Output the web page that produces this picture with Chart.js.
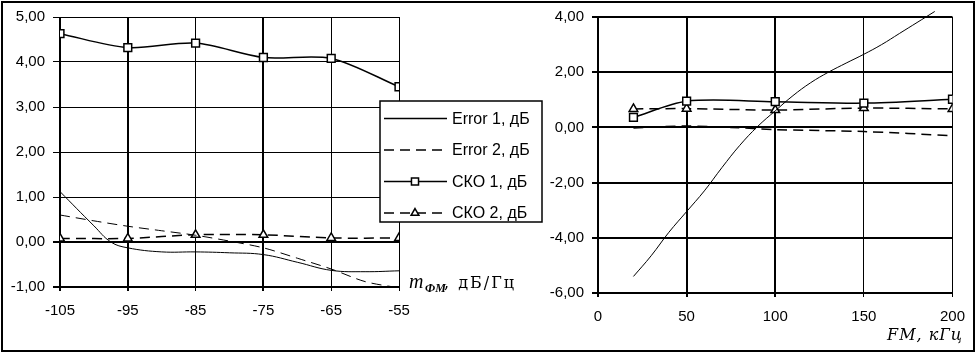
<!DOCTYPE html>
<html>
<head>
<meta charset="utf-8">
<script src="https://cdn.jsdelivr.net/npm/chart.js@4/dist/chart.umd.min.js"></script>
<style>
html, body { margin: 0; padding: 0; background: #fff; }
#wrap { position: relative; width: 976px; height: 353px; overflow: hidden; }
#frame { position: absolute; left: 1px; top: 1px; width: 970px; height: 347px; border: 2px solid #000; }
#rightChart { position: absolute; left: 500px; top: 0; }
#leftChart { position: absolute; left: 0; top: 0; z-index: 2; }
</style>
</head>
<body>
<div id="wrap">
    <div id="frame"></div>
    <canvas id="rightChart" width="476" height="353"></canvas>
    <canvas id="leftChart" width="545" height="353"></canvas>
</div>
<script>
// series names (shared by both panels)
const seriesLabels = ['Error 1, дБ', 'Error 2, дБ', 'СКО 1, дБ', 'СКО 2, дБ'];

// left panel: m_ФМ, дБ/Гц
const leftX = [-105, -95, -85, -75, -65, -55];
const leftSko1 = [4.63, 4.32, 4.42, 4.1, 4.08, 3.45];
const leftSko2 = [0.08, 0.08, 0.16, 0.16, 0.09, 0.09];
const leftErr1X = [-105, -100, -97.5, -95, -90, -85, -80, -75, -70, -65, -60, -55];
const leftErr1 = [1.12, 0.36, 0.0, -0.13, -0.22, -0.22, -0.24, -0.28, -0.45, -0.63, -0.66, -0.64];
const leftErr2X = [-105, -100, -95, -90, -85, -80, -75, -70, -65, -60, -55];
const leftErr2 = [0.6, 0.47, 0.35, 0.25, 0.15, 0.02, -0.13, -0.36, -0.6, -0.88, -1.02];

// right panel: FM, кГц
const rightX = [20, 50, 100, 150, 200];
const rightSko1 = [0.36, 0.95, 0.93, 0.88, 1.02];
const rightSko2 = [0.67, 0.68, 0.63, 0.7, 0.67];
const rightErr1X = [20, 30, 40, 50, 60, 70, 80, 90, 100, 110, 120, 130, 140, 150, 160, 170, 180, 190];
const rightErr1 = [-5.4, -4.65, -3.8, -3.05, -2.3, -1.45, -0.65, 0.03, 0.6, 1.15, 1.62, 2.0, 2.33, 2.65, 3.0, 3.4, 3.8, 4.2];
const rightErr2X = [20, 50, 75, 100, 150, 200];
const rightErr2 = [-0.02, 0.05, 0.0, -0.08, -0.15, -0.3];

const sans = '"Liberation Sans", Arial, sans-serif';
const pts = (xs, ys) => xs.map((x, i) => ({ x, y: ys[i] }));
const fmt = v => v.toFixed(2).replace('.', ',');

function makeDatasets(e1, e2, s1, s2, opt) {
    return [
        {
            label: seriesLabels[0], data: e1, borderColor: '#000', borderWidth: 1,
            pointRadius: 0, tension: 0.4, clip: false,
        },
        {
            label: seriesLabels[1], data: e2, borderColor: '#000', borderWidth: opt.e2Width,
            borderDash: [10, 6], pointRadius: 0, tension: 0.3,
        },
        {
            label: seriesLabels[2], data: s1, borderColor: '#000', borderWidth: 1.5,
            pointStyle: 'rect', pointRadius: 5.5, pointBorderWidth: 1.5,
            pointBackgroundColor: '#fff', pointBorderColor: '#000', tension: 0.3,
        },
        {
            label: seriesLabels[3], data: s2, borderColor: '#000', borderWidth: 1.5,
            borderDash: [10, 6], pointStyle: 'triangle', pointRadius: 5, pointBorderWidth: 1.5,
            pointBackgroundColor: '#fff', pointBorderColor: '#000', tension: 0.3,
        },
    ];
}

// legend box drawn over the left panel
const legendBox = {
    id: 'legendBox',
    afterDraw(chart) {
        const ctx = chart.ctx;
        ctx.save();
        ctx.fillStyle = '#fff';
        ctx.fillRect(380, 101, 162, 121);
        ctx.strokeStyle = '#000';
        ctx.lineWidth = 1.5;
        ctx.strokeRect(380, 101, 162, 121);
        chart.data.datasets.forEach((ds, i) => {
            const y = 118.5 + i * 31.5;
            ctx.strokeStyle = '#000';
            ctx.lineWidth = Math.max(ds.borderWidth, 1.5);
            ctx.setLineDash(ds.borderDash || []);
            ctx.beginPath();
            ctx.moveTo(384, y);
            ctx.lineTo(447, y);
            ctx.stroke();
            ctx.setLineDash([]);
            if (ds.pointRadius) {
                ctx.fillStyle = '#fff';
                ctx.lineWidth = ds.pointBorderWidth;
                Chart.helpers.drawPoint(ctx, {
                    pointStyle: ds.pointStyle, rotation: 0,
                    radius: ds.pointRadius - 0.5, borderWidth: ds.pointBorderWidth,
                }, 415, y);
            }
            ctx.fillStyle = '#000';
            ctx.font = '16px ' + sans;
            ctx.textBaseline = 'middle';
            ctx.fillText(ds.label, 452, y + 1);
        });
        ctx.restore();
    },
};

const leftTitle = {
    id: 'leftTitle',
    afterDraw(chart) {
        const ctx = chart.ctx;
        ctx.save();
        ctx.fillStyle = '#000';
        ctx.textBaseline = 'alphabetic';
        ctx.font = 'italic 20px "Liberation Serif", serif';
        ctx.fillText('m', 409, 288);
        ctx.font = 'italic bold 12px "Liberation Serif", serif';
        ctx.fillText('ФМ', 425, 292);
        ctx.font = '16px "DejaVu Serif", serif';
        ctx.letterSpacing = '2px';
        ctx.fillText(', дБ/Гц', 444, 288);
        ctx.restore();
    },
};

const rightTitle = {
    id: 'rightTitle',
    afterDraw(chart) {
        const ctx = chart.ctx;
        ctx.save();
        ctx.fillStyle = '#000';
        ctx.font = 'italic 16px "DejaVu Serif", serif';
        ctx.letterSpacing = '1px';
        ctx.textAlign = 'right';
        ctx.textBaseline = 'alphabetic';
        ctx.fillText('FM, кГц', 463, 340);
        ctx.restore();
    },
};

Chart.defaults.font.family = sans;
Chart.defaults.color = '#000';

new Chart(document.getElementById('leftChart'), {
    type: 'line',
    data: {
        datasets: makeDatasets(pts(leftErr1X, leftErr1), pts(leftErr2X, leftErr2),
            pts(leftX, leftSko1), pts(leftX, leftSko2), { e2Width: 1 }),
    },
    options: {
        responsive: false,
        animation: false,
        layout: { padding: { left: 0, right: 146, top: 14, bottom: 0 } },
        plugins: { legend: { display: false }, tooltip: { enabled: false } },
        scales: {
            x: {
                type: 'linear', min: -105, max: -55,
                ticks: { stepSize: 10, padding: 11, font: { size: 15 } },
                grid: {
                    color: '#000', tickLength: 4,
                    lineWidth: c => ([-105, -95, -75].includes(c.tick.value) ? 2 : 1),
                },
                border: { display: false },
                afterFit: s => { s.height = 66; },
            },
            y: {
                min: -1, max: 5,
                ticks: { stepSize: 1, padding: 8, font: { size: 15 }, callback: fmt },
                grid: {
                    color: '#000', tickLength: 7,
                    lineWidth: c => (c.tick.value <= 0 ? 2 : 1),
                },
                border: { display: false },
                afterFit: s => { s.width = 60; },
            },
        },
    },
    plugins: [leftTitle, legendBox],
});

new Chart(document.getElementById('rightChart'), {
    type: 'line',
    data: {
        datasets: makeDatasets(pts(rightErr1X, rightErr1), pts(rightErr2X, rightErr2),
            pts(rightX, rightSko1), pts(rightX, rightSko2), { e2Width: 1.5 }),
    },
    options: {
        responsive: false,
        animation: false,
        layout: { padding: { left: 0, right: 20, top: 14, bottom: 0 } },
        plugins: { legend: { display: false }, tooltip: { enabled: false } },
        scales: {
            x: {
                type: 'linear', min: 0, max: 200,
                ticks: { stepSize: 50, padding: 11, font: { size: 15 } },
                grid: {
                    color: '#000', tickLength: 4,
                    lineWidth: c => (c.tick.value <= 100 ? 2 : 1),
                },
                border: { display: false },
                afterFit: s => { s.height = 60; },
            },
            y: {
                min: -6, max: 4,
                ticks: { stepSize: 2, padding: 8, font: { size: 15 }, callback: fmt },
                grid: { color: '#000', tickLength: 6, lineWidth: 2 },
                border: { display: false },
                afterFit: s => { s.width = 98; },
            },
        },
    },
    plugins: [rightTitle],
});
</script>
</body>
</html>
